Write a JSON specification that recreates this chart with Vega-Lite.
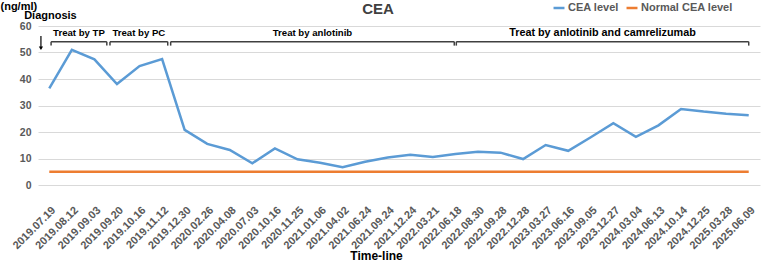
{
  "$schema": "https://vega.github.io/schema/vega-lite/v6.json",
  "width": 722,
  "height": 159,
  "autosize": {"type": "none"},
  "padding": {"left": 38, "top": 26, "right": 1, "bottom": 76},
  "background": "white",
  "config": {
    "view": {"stroke": null},
    "font": "Liberation Sans",
    "title": {"font": "Liberation Sans"},
    "axisY": {
      "tickCount": 7,
      "labelFontSize": 10.5,
      "labelFontWeight": "bold",
      "labelColor": "#595959",
      "labelPadding": 7,
      "labelOverlap": false,
      "ticks": false,
      "domain": false,
      "gridColor": "#d9d9d9",
      "gridWidth": 1
    }
  },
  "title": {
    "text": "CEA",
    "anchor": "middle",
    "frame": "group",
    "dx": -21,
    "offset": -29,
    "baseline": "alphabetic",
    "fontSize": 15,
    "fontWeight": "bold",
    "color": "#404040"
  },
  "datasets": {
    "cea": [
      {"date": "2019.07.19", "CEA level": 36.5, "Normal CEA level": 5},
      {"date": "2019.08.12", "CEA level": 51, "Normal CEA level": 5},
      {"date": "2019.09.03", "CEA level": 47.4, "Normal CEA level": 5},
      {"date": "2019.09.20", "CEA level": 38.1, "Normal CEA level": 5},
      {"date": "2019.10.16", "CEA level": 44.9, "Normal CEA level": 5},
      {"date": "2019.11.12", "CEA level": 47.5, "Normal CEA level": 5},
      {"date": "2019.12.30", "CEA level": 20.8, "Normal CEA level": 5},
      {"date": "2020.02.26", "CEA level": 15.5, "Normal CEA level": 5},
      {"date": "2020.04.08", "CEA level": 13.2, "Normal CEA level": 5},
      {"date": "2020.07.03", "CEA level": 8.2, "Normal CEA level": 5},
      {"date": "2020.10.16", "CEA level": 13.8, "Normal CEA level": 5},
      {"date": "2020.11.25", "CEA level": 9.7, "Normal CEA level": 5},
      {"date": "2021.01.06", "CEA level": 8.4, "Normal CEA level": 5},
      {"date": "2021.04.02", "CEA level": 6.7, "Normal CEA level": 5},
      {"date": "2021.06.24", "CEA level": 8.8, "Normal CEA level": 5},
      {"date": "2021.09.24", "CEA level": 10.4, "Normal CEA level": 5},
      {"date": "2021.12.24", "CEA level": 11.4, "Normal CEA level": 5},
      {"date": "2022.03.21", "CEA level": 10.6, "Normal CEA level": 5},
      {"date": "2022.06.18", "CEA level": 11.7, "Normal CEA level": 5},
      {"date": "2022.08.30", "CEA level": 12.5, "Normal CEA level": 5},
      {"date": "2022.09.28", "CEA level": 12.2, "Normal CEA level": 5},
      {"date": "2022.12.28", "CEA level": 9.8, "Normal CEA level": 5},
      {"date": "2023.03.27", "CEA level": 15.1, "Normal CEA level": 5},
      {"date": "2023.06.16", "CEA level": 12.9, "Normal CEA level": 5},
      {"date": "2023.09.05", "CEA level": 18, "Normal CEA level": 5},
      {"date": "2023.12.27", "CEA level": 23.3, "Normal CEA level": 5},
      {"date": "2024.03.04", "CEA level": 18.2, "Normal CEA level": 5},
      {"date": "2024.06.13", "CEA level": 22.5, "Normal CEA level": 5},
      {"date": "2024.10.14", "CEA level": 28.7, "Normal CEA level": 5},
      {"date": "2024.12.25", "CEA level": 27.7, "Normal CEA level": 5},
      {"date": "2025.03.28", "CEA level": 26.9, "Normal CEA level": 5},
      {"date": "2025.06.09", "CEA level": 26.3, "Normal CEA level": 5}
    ],
    "brackets": [
      {"label": "Treat by TP", "start": 0.58, "end": 3.05, "mid": 1.815},
      {"label": "Treat by PC", "start": 3.19, "end": 5.75, "mid": 4.47},
      {"label": "Treat by anlotinib", "start": 5.88, "end": 18.45, "mid": 12.165},
      {"label": "Treat by anlotinib and camrelizumab", "start": 18.54, "end": 31.5, "mid": 25.02}
    ],
    "diagnosis": [
      {"label": "Diagnosis", "tx": 0.55, "ty": 63.8, "ax": 0.13, "ay1": 56.2, "ay2": 51.6}
    ]
  },
  "layer": [
    {
      "data": {"name": "cea"},
      "transform": [{"fold": ["CEA level", "Normal CEA level"], "as": ["series", "value"]}],
      "mark": {"type": "line", "strokeWidth": 2.5},
      "encoding": {
        "x": {
          "field": "date",
          "type": "ordinal",
          "sort": null,
          "scale": {"type": "point", "padding": 0.5},
          "axis": {
            "title": "Time-line",
            "titleFont": "Liberation Sans",
            "titleFontSize": 12,
            "titleFontWeight": "bold",
            "titleColor": "#000000",
            "titleX": 338,
            "titleY": 74,
            "titleBaseline": "alphabetic",
            "labelAngle": -45,
            "labelFontSize": 11,
            "labelFontWeight": "bold",
            "labelColor": "#595959",
            "labelPadding": 19,
            "labelOverlap": false,
            "ticks": false,
            "domain": false,
            "grid": false
          }
        },
        "y": {
          "field": "value",
          "type": "quantitative",
          "scale": {"domain": [0, 60], "nice": false},
          "axis": {
            "title": "(ng/ml)",
            "titleAngle": 0,
            "titleAlign": "left",
            "titleBaseline": "middle",
            "titleX": -38,
            "titleY": -20,
            "titleFontSize": 11,
            "titleFontWeight": "bold",
            "titleColor": "#000000"
          }
        },
        "color": {
          "field": "series",
          "type": "nominal",
          "scale": {"domain": ["CEA level", "Normal CEA level"], "range": ["#5B9BD5", "#ED7D31"]},
          "legend": {
            "title": null,
            "orient": "none",
            "legendX": 514,
            "legendY": -25,
            "direction": "horizontal",
            "symbolType": "stroke",
            "symbolSize": 120,
            "symbolStrokeWidth": 2.5,
            "labelFontSize": 11,
            "labelFontWeight": "bold",
            "labelColor": "#595959",
            "labelOffset": 2,
            "columnPadding": 2
          }
        }
      }
    },
    {
      "layer": [
        {
          "data": {"name": "brackets"},
          "mark": {"type": "rule", "color": "#404040", "strokeWidth": 1.5},
          "encoding": {
            "x": {"field": "start", "type": "quantitative", "scale": {"domain": [0, 32], "nice": false, "zero": false}, "axis": null},
            "x2": {"field": "end"},
            "y": {"datum": 54.1}
          }
        },
        {
          "data": {"name": "brackets"},
          "mark": {"type": "rule", "color": "#404040", "strokeWidth": 1.5},
          "encoding": {
            "x": {"field": "start", "type": "quantitative", "axis": null},
            "y": {"datum": 54.1},
            "y2": {"datum": 52.6}
          }
        },
        {
          "data": {"name": "brackets"},
          "mark": {"type": "rule", "color": "#404040", "strokeWidth": 1.5},
          "encoding": {
            "x": {"field": "end", "type": "quantitative", "axis": null},
            "y": {"datum": 54.1},
            "y2": {"datum": 52.6}
          }
        },
        {
          "data": {"name": "brackets"},
          "transform": [{"filter": "datum.label != 'Treat by anlotinib and camrelizumab'"}],
          "mark": {"type": "text", "fontSize": 9.6, "fontWeight": "bold", "color": "#000000", "baseline": "middle"},
          "encoding": {
            "x": {"field": "mid", "type": "quantitative", "axis": null},
            "y": {"datum": 57.2},
            "text": {"field": "label"}
          }
        },
        {
          "data": {"name": "brackets"},
          "transform": [{"filter": "datum.label == 'Treat by anlotinib and camrelizumab'"}],
          "mark": {"type": "text", "fontSize": 10.8, "fontWeight": "bold", "color": "#000000", "baseline": "middle"},
          "encoding": {
            "x": {"field": "mid", "type": "quantitative", "axis": null},
            "y": {"datum": 57.2},
            "text": {"field": "label"}
          }
        },
        {
          "data": {"name": "diagnosis"},
          "mark": {"type": "text", "fontSize": 11, "fontWeight": "bold", "color": "#000000", "baseline": "middle"},
          "encoding": {
            "x": {"field": "tx", "type": "quantitative", "axis": null},
            "y": {"field": "ty", "type": "quantitative"},
            "text": {"field": "label"}
          }
        },
        {
          "data": {"name": "diagnosis"},
          "mark": {"type": "rule", "color": "#000000", "strokeWidth": 1.2},
          "encoding": {
            "x": {"field": "ax", "type": "quantitative", "axis": null},
            "y": {"field": "ay1", "type": "quantitative"},
            "y2": {"field": "ay2"}
          }
        },
        {
          "data": {"name": "diagnosis"},
          "mark": {"type": "point", "shape": "triangle-down", "filled": true, "color": "#000000", "size": 18, "opacity": 1},
          "encoding": {
            "x": {"field": "ax", "type": "quantitative", "axis": null},
            "y": {"field": "ay2", "type": "quantitative"}
          }
        }
      ]
    }
  ],
  "resolve": {"scale": {"x": "independent"}}
}
